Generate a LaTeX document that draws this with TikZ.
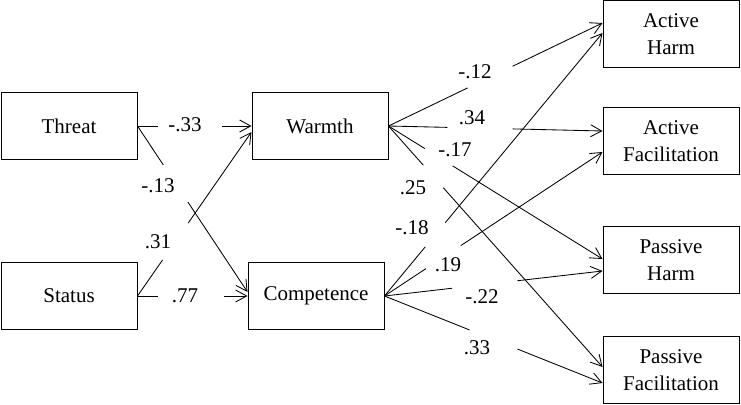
\documentclass[tikz,border=0pt]{standalone}
\usepackage{fontspec}
\setmainfont{Liberation Serif}
\usetikzlibrary{arrows.meta,calc}
\newcommand\gapconn[4]{%
  \draw[conn] (#1) -- ($(#1)!#3!(#2)$);
  \draw[conn,tip] ($(#1)!#4!(#2)$) -- (#2);}
\begin{document}
\begin{tikzpicture}[x=1pt,y=-1pt,
  box/.style={draw,line width=1pt,minimum width=136pt,minimum height=67pt,inner sep=0pt,align=center,font=\fontsize{21}{27}\selectfont},
  conn/.style={line width=0.85pt},
  tip/.style={-{Straight Barb[length=11pt,width=12pt,line width=0.85pt]}},
  lab/.style={font=\fontsize{21}{25}\selectfont,inner sep=0pt}]
\useasboundingbox (0,0) rectangle (741,404);
% boxes
\node[box] (threat) at (69,126) {Threat};
\node[box] (status) at (69,296) {Status};
\node[box] (warmth) at (320,126) {Warmth};
\node[box] (comp) at (316,296) {Competence};
\node[box] (ah) at (671,34) {Active\\Harm};
\node[box] (af) at (671,141) {Active\\Facilitation};
\node[box] (ph) at (671,260) {Passive\\Harm};
\node[box] (pf) at (671,370) {Passive\\Facilitation};
% end points
\coordinate (w-in2) at ([yshift=-6pt]warmth.west);
\coordinate (c-in1) at ([yshift=4pt]comp.west);
\coordinate (ah-in1) at ([yshift=11pt]ah.west);
\coordinate (ah-in2) at ([yshift=1pt]ah.west);
\coordinate (af-in1) at ([yshift=10pt]af.west);
\coordinate (af-in2) at ([yshift=-11pt]af.west);
\coordinate (ph-in1) at ([yshift=1pt]ph.west);
\coordinate (ph-in2) at ([yshift=-11pt]ph.west);
\coordinate (pf-in1) at ([yshift=3pt]pf.west);
\coordinate (pf-in2) at ([yshift=-13pt]pf.west);
% connectors
\gapconn{threat.east}{warmth.west}{0.18}{0.74}
\gapconn{threat.east}{c-in1}{0.235}{0.458}
\gapconn{status.east}{w-in2}{0.22}{0.445}
\gapconn{status.east}{comp.west}{0.19}{0.79}
\gapconn{warmth.east}{ah-in1}{0.37}{0.58}
\gapconn{warmth.east}{af-in1}{0.275}{0.58}
\gapconn{warmth.east}{ph-in1}{0.17}{0.30}
\gapconn{warmth.east}{pf-in1}{0.163}{0.256}
\gapconn{comp.east}{ah-in2}{0.187}{0.279}
\gapconn{comp.east}{af-in2}{0.19}{0.35}
\gapconn{comp.east}{ph-in2}{0.31}{0.61}
\gapconn{comp.east}{pf-in2}{0.39}{0.61}
% labels
\node[lab] (l1) at (185,125) {-.33};
\node[lab] (l2) at (158,186) {-.13};
\node[lab] (l3) at (158,242) {.31};
\node[lab] (l4) at (185,296) {.77};
\node[lab] (l5) at (475,72) {-.12};
\node[lab] (l6) at (472,118) {.34};
\node[lab] (l7) at (455,150) {-.17};
\node[lab] (l8) at (413,188) {.25};
\node[lab] (l9) at (412,228) {-.18};
\node[lab] (l10) at (448,265) {.19};
\node[lab] (l11) at (482,297) {-.22};
\node[lab] (l12) at (477,348) {.33};
\end{tikzpicture}
\end{document}
